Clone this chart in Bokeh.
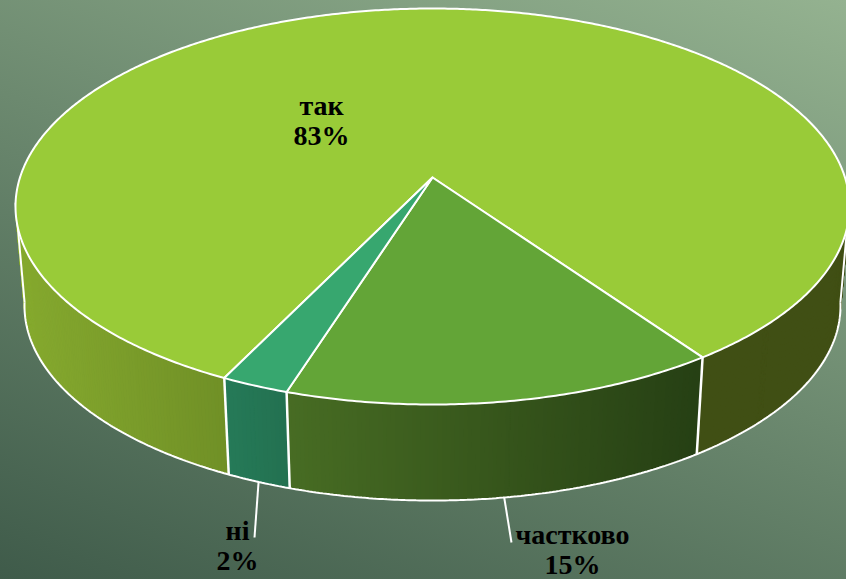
import numpy as np
from bokeh.core.properties import value
from bokeh.embed import file_html
from bokeh.models import Range1d
from bokeh.plotting import figure
from bokeh.resources import INLINE

categories = ["так", "частково", "ні"]
shares = [83.0, 14.7, 2.3]

W, H = 846, 579
TOP = dict(cx=432.0, cy=206.0, rx=417.0, ry=198.0)
BOT = dict(cx=432.0, cy=305.5, rx=408.0, ry=194.5)
C = (177.0 - 206.0) / 198.0
START = -26.0

FACE = {"так": "#99CB38", "частково": "#63A537", "ні": "#37A76F"}
SIDE = {
    "так": ([15, 225, 226, 700, 846], [(134, 170, 46), (112, 144, 38), (64, 79, 20), (64, 79, 20), (64, 79, 20)]),
    "частково": ([287, 697], [(71, 108, 35), (38, 64, 20)]),
    "ні": ([225, 290], [(37, 122, 88), (35, 112, 80)]),
}
LABELS = {"так": (321, 105, 135), "частково": (572, 534, 564), "ні": (237, 530, 560)}
LEADER_END = {"частково": (511, 542), "ні": (254, 537)}


def project(theta_deg, e):
    t = np.radians(np.asarray(theta_deg, dtype=float))
    u, v = np.sin(t), np.cos(t)
    d = 1 + C * v
    up = u * np.sqrt(1 - C ** 2) / d
    vp = (v + C) / d
    return e["cx"] + e["rx"] * up, e["cy"] + e["ry"] * vp, vp


def hexc(rgb):
    return "#%02x%02x%02x" % tuple(int(round(c)) for c in rgb)


def shade(name, x):
    xs, cols = SIDE[name]
    return hexc([np.interp(x, xs, [c[i] for c in cols]) for i in range(3)])


p = figure(width=W, height=H, output_backend="svg", toolbar_location=None,
           x_range=Range1d(0, W), y_range=Range1d(H, 0), min_border=0,
           x_axis_type=None, y_axis_type=None, outline_line_color=None,
           background_fill_alpha=0, border_fill_alpha=0,
           styles={"position": "absolute", "left": "0", "top": "0",
                   "background": "linear-gradient(22deg, #3f5b4a, #94b290)"})
p.grid.visible = False

# slice angles, clockwise on screen (decreasing theta)
spans = [s / sum(shares) * 360 for s in shares]
edges = START - np.concatenate([[0], np.cumsum(spans)])

# side wall
xs, ys, cols = [], [], []
for name, a, b in zip(categories, edges[:-1], edges[1:]):
    th = np.linspace(a, b, max(3, int(abs(a - b) / 0.5)))
    tx, ty, tv = project(th, TOP)
    bx, by, _ = project(th, BOT)
    for i in range(len(th) - 1):
        if tv[i] >= -0.02 and tv[i + 1] >= -0.02:
            xs.append([tx[i], tx[i + 1], bx[i + 1], bx[i]])
            ys.append([ty[i], ty[i + 1], by[i + 1], by[i]])
            cols.append(shade(name, (tx[i] + tx[i + 1]) / 2))
p.patches(xs, ys, fill_color=cols, line_color=cols, line_width=1)

# outline of the wall: bottom rim and the silhouette
th = np.linspace(-110, 110, 500)
bx, by, bv = project(th, BOT)
keep = bv >= -0.02
p.line(bx[keep], by[keep], line_color="white", line_width=2)
for t0 in (th[keep][0], th[keep][-1]):
    x0, y0, _ = project(t0, TOP)
    x1, y1, _ = project(t0, BOT)
    p.line([x0, x1], [y0, y1], line_color="white", line_width=2)

# vertical dividers on the wall
for a in edges[1:-1].tolist() + [edges[0]]:
    x0, y0, _ = project(a, TOP)
    x1, y1, _ = project(a, BOT)
    p.line([x0, x1], [y0, y1], line_color="white", line_width=2.5)

# top faces
tip_x, tip_y = TOP["cx"], TOP["cy"] + TOP["ry"] * C
for name, a, b in zip(categories, edges[:-1], edges[1:]):
    th = np.linspace(a, b, max(3, int(abs(a - b) / 0.5)))
    tx, ty, _ = project(th, TOP)
    p.patch(np.r_[tip_x, tx], np.r_[tip_y, ty], fill_color=FACE[name],
            line_color="white", line_width=2, line_join="round")

# leader lines and labels
for name, a, b, s in zip(categories, edges[:-1], edges[1:], shares):
    lx, ly1, ly2 = LABELS[name]
    if name in LEADER_END:
        x0, y0, _ = project((a + b) / 2, BOT)
        ex, ey = LEADER_END[name]
        p.line([x0, ex], [y0, ey], line_color="white", line_width=2)
    for y, t in ((ly1, name), (ly2, f"{round(s)}%")):
        p.text([lx], [y], text=[t], text_font=value("Liberation Serif"),
               text_font_style="bold", text_font_size="28px", text_color="black",
               text_align="center", text_baseline="middle")

open("out.html", "w").write(file_html(p, INLINE))
